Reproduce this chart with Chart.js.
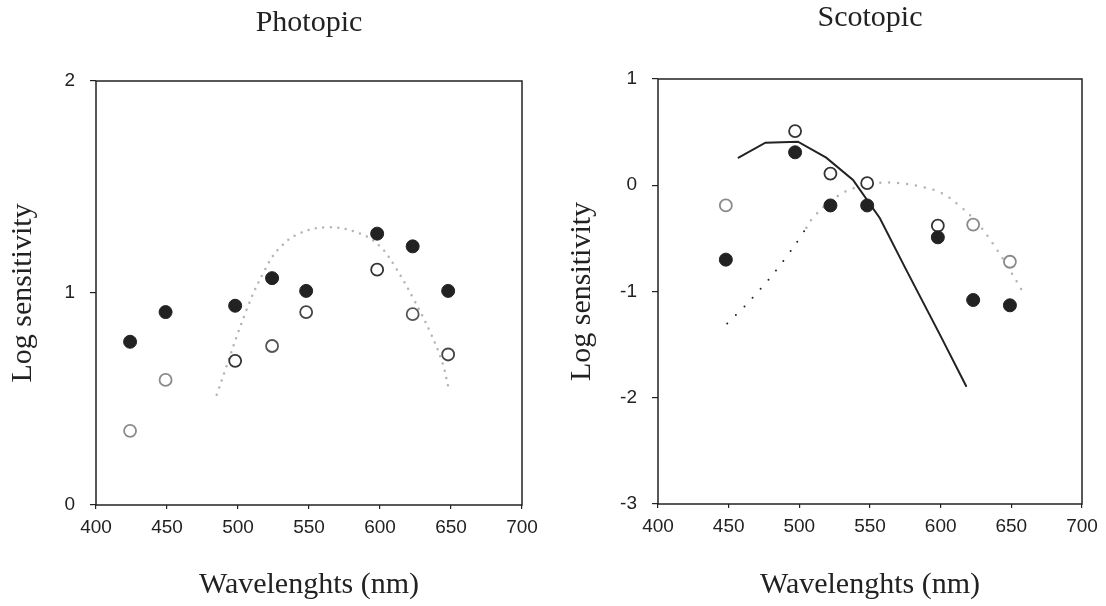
<!DOCTYPE html>
<html>
<head>
<meta charset="utf-8">
<script src="https://cdn.jsdelivr.net/npm/chart.js@4.4.1/dist/chart.umd.min.js"></script>
<style>
  body { margin: 0; background: #fff; overflow: hidden; }
  canvas { position: absolute; top: 0; }
  #photopic { left: 0; }
  #scotopic { left: 553px; }
</style>
</head>
<body>
<canvas id="photopic" width="553" height="606"></canvas>
<canvas id="scotopic" width="553" height="606"></canvas>
<script>
// tick labels
const xTicks = [400, 450, 500, 550, 600, 650, 700];
const photopicYTicks = [0, 1, 2];
const scotopicYTicks = [-3, -2, -1, 0, 1];

// Photopic panel
const photopicWl = [424, 449, 498, 524, 548, 598, 623, 648];
const photopicFilled = [0.77, 0.91, 0.94, 1.07, 1.01, 1.28, 1.22, 1.01];
const photopicOpen = [0.35, 0.59, 0.68, 0.75, 0.91, 1.11, 0.90, 0.71];
const photopicCurveWl = [485, 506, 519, 529, 543, 564, 586, 600, 611, 623, 635, 644, 648];
const photopicCurve = [0.52, 0.92, 1.11, 1.21, 1.28, 1.31, 1.28, 1.22, 1.12, 0.98, 0.82, 0.67, 0.56];

// Scotopic panel
const scotopicWl = [448, 497, 522, 548, 598, 623, 649];
const scotopicOpen = [-0.19, 0.51, 0.11, 0.02, -0.38, -0.37, -0.72];
const scotopicFilled = [-0.70, 0.31, -0.19, -0.19, -0.49, -1.08, -1.13];
const rodCurveWl = [457, 476, 499, 519, 538, 557, 575, 600, 618];
const rodCurve = [0.26, 0.40, 0.41, 0.26, 0.05, -0.31, -0.78, -1.42, -1.89];
const blackDotsWl = [449, 462, 480, 496, 505];
const blackDots = [-1.30, -1.13, -0.86, -0.58, -0.40];
const greyDotsWl = [505, 510, 525, 540, 555, 570, 585, 600, 613, 625, 637, 649, 658];
const greyDots = [-0.40, -0.30, -0.12, -0.02, 0.02, 0.02, -0.01, -0.07, -0.19, -0.34, -0.55, -0.80, -1.00];

const serif = 'Liberation Serif';
const sans = 'Liberation Sans';
const ink = '#222';

// box round the plot area
const frame = {
  id: 'frame',
  beforeDatasetsDraw(chart) {
    const {ctx, chartArea: a} = chart;
    ctx.save();
    ctx.strokeStyle = ink;
    ctx.lineWidth = 1.5;
    ctx.strokeRect(a.left, a.top, a.right - a.left, a.bottom - a.top);
    ctx.restore();
  }
};

function pts(xs, ys) {
  return xs.map((x, i) => ({x: x, y: ys[i]}));
}

function filled(xs, ys) {
  return {
    data: pts(xs, ys), showLine: false, order: 0,
    pointRadius: 6.5, pointBackgroundColor: ink, pointBorderColor: ink, pointBorderWidth: 1
  };
}

function open(xs, ys, rim) {
  return {
    data: pts(xs, ys), showLine: false, order: 1,
    pointRadius: 6, pointBackgroundColor: '#fff', pointBorderColor: rim, pointBorderWidth: 1.8
  };
}

function curve(xs, ys, color, width, dash, tension) {
  return {
    data: pts(xs, ys), showLine: true, order: 5, pointRadius: 0,
    borderColor: color, borderWidth: width, borderDash: dash,
    borderCapStyle: 'round', tension: tension
  };
}

function makeChart(id, o) {
  const gridOpts = { drawOnChartArea: false, drawTicks: true, color: ink, lineWidth: 1.2 };
  return new Chart(document.getElementById(id), {
    type: 'scatter',
    data: { datasets: o.datasets },
    options: {
      responsive: false,
      animation: false,
      devicePixelRatio: 1,
      layout: { padding: { left: 0, right: o.padRight, top: 0, bottom: 0 } },
      plugins: {
        legend: { display: false },
        tooltip: { enabled: false },
        title: {
          display: true, text: o.title, fullSize: false, color: ink,
          font: { family: serif, size: 30, weight: 'normal' },
          padding: o.titlePad
        }
      },
      scales: {
        x: {
          type: 'linear', min: 400, max: 700,
          afterBuildTicks: s => { s.ticks = xTicks.map(v => ({value: v})); },
          afterFit: s => { s.height = o.xHeight; },
          grid: Object.assign({ tickLength: 4 }, gridOpts),
          border: { display: false },
          ticks: { color: ink, autoSkip: false, maxRotation: 0, padding: 7,
                   font: { family: sans, size: 19 } },
          title: { display: true, text: 'Wavelenghts (nm)', color: ink,
                   font: { family: serif, size: 30 }, padding: { top: 0, bottom: 3 } }
        },
        y: {
          type: 'linear', min: o.yTicks[0], max: o.yTicks[o.yTicks.length - 1],
          afterBuildTicks: s => { s.ticks = o.yTicks.map(v => ({value: v})); },
          afterFit: s => { s.width = o.yWidth; },
          grid: Object.assign({ tickLength: 6 }, gridOpts),
          border: { display: false },
          ticks: { color: ink, padding: 15, font: { family: sans, size: 19 } },
          title: { display: true, text: 'Log sensitivity', color: ink,
                   font: { family: serif, size: 30 }, padding: { top: o.yTitlePad, bottom: 0 } }
        }
      }
    },
    plugins: [frame]
  });
}

makeChart('photopic', {
  title: 'Photopic',
  titlePad: { top: 5, bottom: 40 },
  padRight: 31,
  yWidth: 96,
  yTitlePad: 5,
  xHeight: 101,
  yTicks: photopicYTicks,
  datasets: [
    filled(photopicWl, photopicFilled),
    open(photopicWl, photopicOpen, ['#8a8a8a', '#8a8a8a', '#333', '#555', '#444', '#333', '#555', '#444']),
    curve(photopicCurveWl, photopicCurve, '#b3b3b3', 2.5, [0, 7.5], 0.4)
  ]
});

makeChart('scotopic', {
  title: 'Scotopic',
  titlePad: { top: 0, bottom: 43 },
  padRight: 24,
  yWidth: 105,
  yTitlePad: 11,
  xHeight: 102,
  yTicks: scotopicYTicks,
  datasets: [
    filled(scotopicWl, scotopicFilled),
    open(scotopicWl, scotopicOpen, ['#8a8a8a', '#333', '#333', '#333', '#333', '#8a8a8a', '#8a8a8a']),
    curve(rodCurveWl, rodCurve, ink, 2, [], 0),
    curve(blackDotsWl, blackDots, ink, 2, [0, 12], 0.3),
    curve(greyDotsWl, greyDots, '#b3b3b3', 2.5, [0, 9], 0.4)
  ]
});
</script>
</body>
</html>
